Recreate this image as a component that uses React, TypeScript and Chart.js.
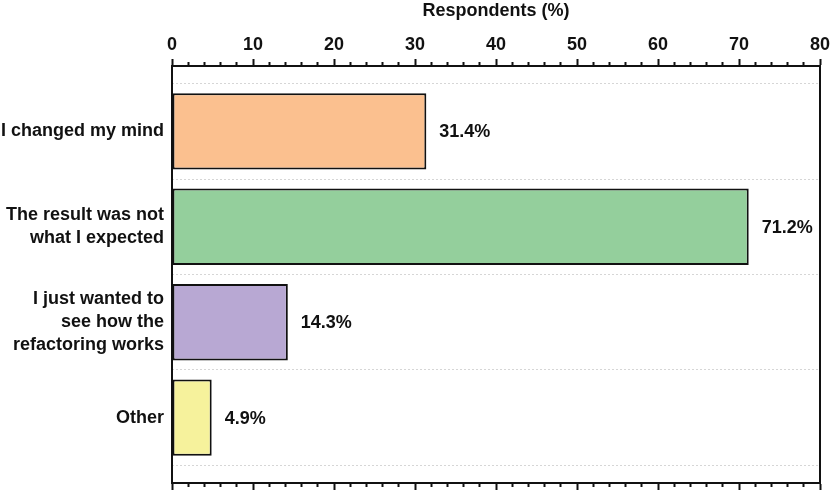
import React, { useEffect, useRef } from 'react';
import { Chart, registerables } from 'chart.js';

Chart.register(...registerables);

// ---- data ----
const categories: string[][] = [
  ['I changed my mind'],
  ['The result was not', 'what I expected'],
  ['I just wanted to', 'see how the', 'refactoring works'],
  ['Other'],
];
const values: number[] = [31.4, 71.2, 14.3, 4.9];
const barColors: string[] = ['#FBC08F', '#94CF9C', '#B8A8D3', '#F6F29C'];
const xMajorTicks: number[] = [0, 10, 20, 30, 40, 50, 60, 70, 80];
const xMinorStep = 2;
const axisTitle = 'Respondents (%)';

const FONT = '"Liberation Sans", Arial, Helvetica, sans-serif';
const INK = '#111111';

const xMin = xMajorTicks[0];
const xMax = xMajorTicks[xMajorTicks.length - 1];
const xAllTicks: number[] = [];
for (let v = xMin; v <= xMax + 1e-9; v += xMinorStep) xAllTicks.push(v);
const isMajor = (v: number) => xMajorTicks.includes(v);

const yMin = -0.685;
const yMax = categories.length - 1 + 0.685;
const boundaries: number[] = categories.map((_, i) => i - 0.5).concat([categories.length - 0.5]);

const valueLabels = {
  id: 'valueLabels',
  afterDatasetsDraw(chart: any) {
    const ctx = chart.ctx;
    const meta = chart.getDatasetMeta(0);
    ctx.save();
    ctx.font = `bold 18px ${FONT}`;
    ctx.fillStyle = INK;
    ctx.textAlign = 'left';
    ctx.textBaseline = 'middle';
    meta.data.forEach((el: any, i: number) => {
      const { x, y } = el.getProps(['x', 'y'], true);
      ctx.fillText(values[i].toFixed(1) + '%', x + 13, y + 1);
    });
    ctx.restore();
  },
};

export default function App() {
  const ref = useRef<HTMLCanvasElement>(null);

  useEffect(() => {
    if (!ref.current) return;
    const font = { family: FONT, size: 18, weight: 'bold' as const };
    const chart = new Chart(ref.current, {
      type: 'bar',
      data: {
        datasets: [
          {
            data: values.map((v, i) => ({ x: v, y: i })),
            backgroundColor: barColors,
            borderColor: INK,
            borderWidth: 2,
            borderSkipped: false,
            categoryPercentage: 0.8,
            barPercentage: 1.0,
          },
        ],
      },
      options: {
        indexAxis: 'y',
        responsive: false,
        animation: false,
        devicePixelRatio: 1,
        layout: { padding: { left: 0, top: 0, right: 11, bottom: 0 } },
        plugins: { legend: { display: false }, tooltip: { enabled: false } },
        scales: {
          x: {
            type: 'linear',
            position: 'top',
            min: xMin,
            max: xMax,
            offset: false,
            afterBuildTicks: (s: any) => {
              s.ticks = xAllTicks.map((v) => ({ value: v }));
            },
            afterFit: (s: any) => {
              s.height = 66;
              s.paddingLeft = 0;
              s.paddingRight = 0;
            },
            ticks: {
              autoSkip: false,
              maxRotation: 0,
              minRotation: 0,
              padding: 3,
              color: INK,
              font,
              callback: (v: any) => (isMajor(Number(v)) ? String(v) : ''),
            },
            grid: {
              offset: false,
              drawOnChartArea: false,
              drawTicks: true,
              tickLength: 7,
              tickColor: INK,
              tickWidth: 2,
              tickBorderDash: (c: any) => (c.tick && isMajor(c.tick.value) ? [] : [0, 3, 3, 20]),
            },
            border: { display: true, color: INK, width: 2 },
            title: {
              display: true,
              text: axisTitle,
              color: INK,
              font: { ...font, lineHeight: 1.1 },
              padding: { top: 1, bottom: 0 },
            },
          },
          x2: {
            type: 'linear',
            position: 'bottom',
            min: xMin,
            max: xMax,
            offset: false,
            afterBuildTicks: (s: any) => {
              s.ticks = xAllTicks.map((v) => ({ value: v }));
            },
            afterFit: (s: any) => {
              s.height = 11;
              s.paddingLeft = 0;
              s.paddingRight = 0;
            },
            ticks: { display: false, autoSkip: false },
            grid: {
              offset: false,
              drawOnChartArea: false,
              drawTicks: true,
              tickLength: 7,
              tickColor: INK,
              tickWidth: 2,
              tickBorderDash: (c: any) => (c.tick && isMajor(c.tick.value) ? [] : [3, 20]),
            },
            border: { display: true, color: INK, width: 2 },
          },
          y: {
            type: 'linear',
            position: 'left',
            min: yMin,
            max: yMax,
            reverse: true,
            offset: false,
            afterBuildTicks: (s: any) => {
              s.ticks = categories.map((_, i) => ({ value: i }));
            },
            afterFit: (s: any) => {
              s.width = 172;
              s.paddingTop = 0;
              s.paddingBottom = 0;
            },
            ticks: {
              autoSkip: false,
              padding: 8,
              color: INK,
              font: { ...font, lineHeight: 1.27 },
              callback: (v: any) => categories[Number(v)] ?? '',
            },
            grid: { display: false, drawTicks: false, offset: false },
            border: { display: true, color: INK, width: 2 },
          },
          y2: {
            type: 'linear',
            position: 'right',
            min: yMin,
            max: yMax,
            reverse: true,
            offset: false,
            afterBuildTicks: (s: any) => {
              s.ticks = boundaries.map((v) => ({ value: v }));
            },
            afterFit: (s: any) => {
              s.width = 0;
              s.paddingTop = 0;
              s.paddingBottom = 0;
            },
            ticks: { display: false, autoSkip: false },
            grid: { display: true, offset: false, drawTicks: false, color: '#d6d6d6', lineWidth: 1 },
            border: { display: true, color: INK, width: 2, dash: [2, 2] },
          },
        },
      } as any,
      plugins: [valueLabels],
    });
    return () => chart.destroy();
  }, []);

  return (
    <div style={{ position: 'fixed', left: 0, top: 0, width: 831, height: 494, background: '#fff' }}>
      <canvas ref={ref} width={831} height={494} style={{ display: 'block' }} />
    </div>
  );
}
